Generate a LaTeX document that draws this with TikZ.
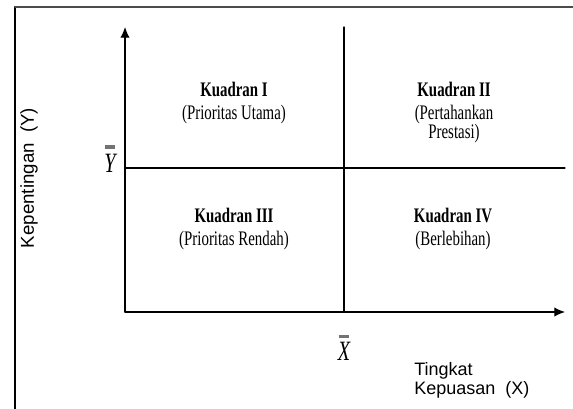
\documentclass[tikz,border=0pt]{standalone}
\usepackage{fontspec}
\setmainfont{Liberation Serif}
\setsansfont{Liberation Sans}
\newfontfamily\quadfont[FakeStretch=0.72]{Liberation Serif}
\usetikzlibrary{arrows.meta}

\tikzset{
  quadtext/.style={font=\quadfont\fontsize{15.5}{14.25}\selectfont,
    align=center, anchor=north, inner sep=0pt},
  axislabel/.style={font=\sffamily\fontsize{13.5}{14.5}\selectfont, inner sep=0pt},
  meanlabel/.style={font=\quadfont\fontsize{21}{21}\selectfont\itshape,
    align=center, anchor=south, inner sep=0pt},
  axisline/.style={line width=0.9pt},
}
\newcommand{\meanbar}{\textcolor{black!55}{\rule{8pt}{2.6pt}}}

\begin{document}
\begin{tikzpicture}[x=0.75pt,y=-0.75pt,line cap=round,line join=round]
  \clip (0,0) rectangle (573,409);

  % frame
  \draw[line width=1.5pt] (15,420) -- (15,7);
  \draw[line width=1.1pt,black!70] (15,7) -- (590,7);

  \coordinate (O) at (125,312);
  \coordinate (ytop) at (125,27);
  \coordinate (xend) at (565,312);
  \coordinate (vtop) at (344,27);
  \coordinate (vbot) at (344,312);
  \coordinate (hleft) at (125,168);
  \coordinate (hright) at (565,168);

  \draw[axisline,-{Latex[length=8pt,width=7pt]}] (O) -- (ytop);
  \draw[axisline,-{Latex[length=8pt,width=7pt]}] (O) -- (xend);
  \draw[axisline] (vtop) -- (vbot);
  \draw[axisline] (hleft) -- (hright);

  % quadrants
  \node[quadtext] (q1) at (234,82) {\textbf{Kuadran I}\\[3pt](Prioritas Utama)};
  \node[quadtext] (q2) at (454,82) {\textbf{Kuadran II}\\[3pt](Pertahankan\\Prestasi)};
  \node[quadtext] (q3) at (234,208) {\textbf{Kuadran III}\\[3pt](Prioritas Rendah)};
  \node[quadtext] (q4) at (453,208) {\textbf{Kuadran IV}\\[3pt](Berlebihan)};

  % means
  \node[meanlabel] (xbar) at (344,361) {\meanbar\\[-4pt]X};
  \node[meanlabel] (ybar) at (110,173) {\meanbar\\[-3pt]Y};

  % axis titles
  \node[axislabel,font=\sffamily\fontsize{14}{14}\selectfont,rotate=90] (ylab) at (29,178) {Kepentingan\ \ (Y)};
  \node[axislabel,align=left,anchor=north west] (xlab) at (414,362) {Tingkat\\Kepuasan\ \ (X)};
\end{tikzpicture}
\end{document}
